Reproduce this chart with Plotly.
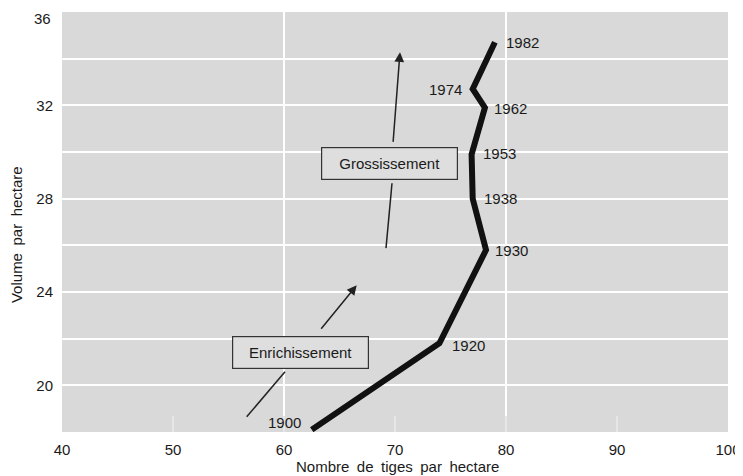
import plotly.graph_objects as go

# Data
years = ["1900", "1920", "1930", "1938", "1953", "1962", "1974", "1982"]
tiges = [62.5, 74.0, 78.2, 77.0, 76.9, 78.1, 77.0, 79.0]
volume = [18.1, 21.8, 25.8, 28.0, 29.9, 31.9, 32.7, 34.7]

x_ticks = [40, 50, 60, 70, 80, 90, 100]
y_ticks = [20, 24, 28, 32, 36]

FONT = "Liberation Sans, Arial, sans-serif"
TXT = "#1a1a1a"

fig = go.Figure()
fig.add_trace(go.Scatter(
    x=tiges, y=volume, mode="lines",
    line=dict(color="#111111", width=6),
    hoverinfo="skip", showlegend=False,
))

# year labels (placement per label: side, xshift, yshift)
placement = {
    "1900": ("right", -9, 7),
    "1920": ("left", 11, -2),
    "1930": ("left", 7, 0),
    "1938": ("left", 9, 0),
    "1953": ("left", 9, 1),
    "1962": ("left", 7, -1),
    "1974": ("right", -9, 0),
    "1982": ("left", 9, 0),
}
annotations = []
for yr, xv, yv in zip(years, tiges, volume):
    side, xs, ys = placement[yr]
    annotations.append(dict(
        x=xv, y=yv, xref="x", yref="y", text=yr, showarrow=False,
        xanchor=side, yanchor="middle", xshift=xs, yshift=ys,
        font=dict(family=FONT, size=15, color=TXT),
    ))

# top y tick label sits just below the top edge
annotations.append(dict(
    x=0, y=y_ticks[-1], xref="paper", yref="y", text=str(y_ticks[-1]),
    showarrow=False, xanchor="right", yanchor="middle", xshift=-9, yshift=-6,
    font=dict(family=FONT, size=15, color=TXT),
))

# boxed labels
for txt, cx, cy in [("Grossissement", 389, 163), ("Enrichissement", 300, 352)]:
    annotations.append(dict(
        x=40 + (cx - 62) / 11.1, y=36 - (cy - 11.6) / 23.35,
        xref="x", yref="y", text=txt, showarrow=False,
        xanchor="center", yanchor="middle",
        width=131, height=27, borderpad=2,
        bgcolor="#dedede", bordercolor="#333333", borderwidth=1.2,
        font=dict(family=FONT, size=15, color=TXT),
    ))

# arrows
for (tx, ty), (hx, hy) in [((69.82, 30.37), (70.45, 34.28)),
                           ((63.24, 22.36), (66.55, 24.29))]:
    annotations.append(dict(
        x=hx, y=hy, ax=tx, ay=ty, xref="x", yref="y", axref="x", ayref="y",
        text="", showarrow=True, arrowhead=2, arrowsize=1.3, arrowwidth=1.5,
        arrowcolor="#222222",
    ))

# axis titles
annotations.append(dict(
    x=0.5045, y=-0.081, xref="paper", yref="paper",
    text="Nombre\u2002de\u2002tiges\u2002par\u2002hectare", showarrow=False,
    xanchor="center", yanchor="middle",
    font=dict(family=FONT, size=15, color=TXT),
))
annotations.append(dict(
    x=-0.069, y=0.469, xref="paper", yref="paper",
    text="Volume\u2002par\u2002hectare", showarrow=False, textangle=-90,
    xanchor="center", yanchor="middle",
    font=dict(family=FONT, size=15, color=TXT),
))

shapes = []
for gx in [60, 80]:
    shapes.append(dict(type="line", xref="x", yref="paper", x0=gx, x1=gx,
                       y0=0, y1=1, line=dict(color="white", width=2), layer="below"))
for (x0, y0), (x1, y1) in [((69.73, 28.66), (69.19, 25.88)),
                           ((60.09, 20.58), (56.64, 18.65))]:
    shapes.append(dict(type="line", xref="x", yref="y", x0=x0, y0=y0, x1=x1, y1=y1,
                       line=dict(color="#222222", width=1.5)))

# page body has an 8px margin, so the figure is 8px smaller and offset
fig.update_layout(
    width=735, height=468,
    margin=dict(l=54, r=15, t=4, b=44, autoexpand=False),
    paper_bgcolor="white", plot_bgcolor="#d9d9d9",
    font=dict(family=FONT, size=15, color=TXT),
    xaxis=dict(range=[40, 100], tickvals=x_ticks, showgrid=False, zeroline=False,
               ticks="inside", ticklen=16, tickwidth=2, tickcolor="#e6e6e6",
               ticklabelstandoff=7, showline=False, automargin=False,
               ticklabeloverflow="allow",
               tickfont=dict(family=FONT, size=15, color=TXT)),
    yaxis=dict(range=[18, 36], tickvals=y_ticks[:-1], showgrid=True, gridcolor="white",
               gridwidth=2, zeroline=False, ticks="", ticklabelstandoff=8,
               automargin=False,
               minor=dict(dtick=2, tick0=0, showgrid=True, gridcolor="white", gridwidth=2),
               tickfont=dict(family=FONT, size=15, color=TXT)),
    annotations=annotations, shapes=shapes, showlegend=False,
)

fig.write_html("out.html")
